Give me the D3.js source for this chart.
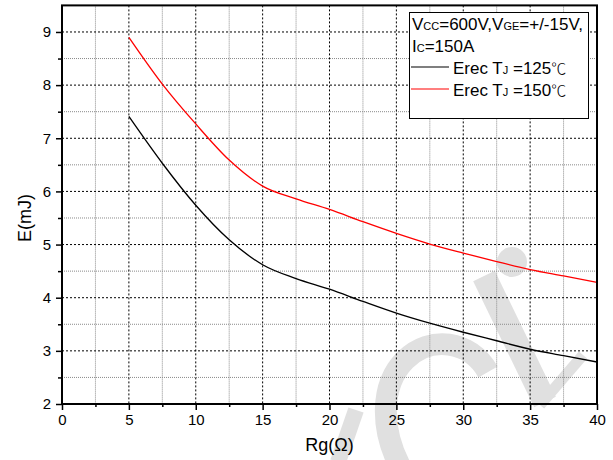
<!DOCTYPE html>
<html>
<head>
<meta charset="utf-8">
<script src="https://cdn.jsdelivr.net/npm/d3@7"></script>
<style>
  html, body { margin: 0; padding: 0; background: #fff; }
  svg { display: block; font-family: Arial, "Liberation Sans", sans-serif; }
</style>
</head>
<body>
<svg id="chart" width="613" height="460"></svg>
<script>
// ---- data ----
const rg = [5, 7.5, 10, 12.5, 15, 17.5, 20, 22.5, 25, 27.5, 30, 32.5, 35, 37.5, 40];
const erec125 = [7.41, 6.53, 5.74, 5.09, 4.62, 4.36, 4.16, 3.93, 3.71, 3.52, 3.35, 3.19, 3.03, 2.91, 2.79];
const erec150 = [8.90, 8.02, 7.27, 6.59, 6.10, 5.86, 5.66, 5.43, 5.21, 5.01, 4.84, 4.68, 4.53, 4.41, 4.29];
const seriesNames = ["125", "150"];
const seriesColors = ["#000000", "#ff0000"];
const xTicks = [0, 5, 10, 15, 20, 25, 30, 35, 40];
const xMinor = [2.5, 7.5, 12.5, 17.5, 22.5, 27.5, 32.5, 37.5];
const yTicks = [2, 3, 4, 5, 6, 7, 8, 9];
const yMinor = [2.5, 3.5, 4.5, 5.5, 6.5, 7.5, 8.5, 9.5];

const svg = d3.select("#chart");
const L = 62, R = 597, T = 5.4, B = 404;
const x = d3.scaleLinear().domain([0, 40]).range([L, R]);
const y = d3.scaleLinear().domain([2, 9.5]).range([B, T]);

// ---- watermark (light grey, decorative) ----
const wm = svg.append("g").attr("fill", "none").attr("stroke", "#e0e0e0").attr("stroke-linecap", "butt");
wm.append("path").attr("stroke-width", 22)
  .attr("d", "M402,470 C380,430 380,385 405,360 C430,335 470,340 488,372");
wm.append("path").attr("stroke-width", 24)
  .attr("d", "M484,276 L545,402");
wm.append("path").attr("stroke-width", 11)
  .attr("d", "M540,405 L583,355");
wm.append("circle").attr("cx", 512).attr("cy", 262).attr("r", 15).attr("fill", "#e0e0e0").attr("stroke", "none");
wm.append("path").attr("stroke-width", 16)
  .attr("d", "M356,410 L338,462");

// ---- grid ----
const grid = svg.append("g");
function vline(v, col, dash) {
  grid.append("line").attr("x1", x(v)).attr("x2", x(v)).attr("y1", T).attr("y2", B)
    .attr("stroke", col).attr("stroke-width", 1).attr("stroke-dasharray", dash);
}
function hline(v, col, dash) {
  grid.append("line").attr("x1", L).attr("x2", R).attr("y1", y(v)).attr("y2", y(v))
    .attr("stroke", col).attr("stroke-width", 1).attr("stroke-dasharray", dash);
}
xMinor.forEach(v => vline(v, "#8a8a8a", "1,1"));
yMinor.slice(0, -1).forEach(v => hline(v, "#8a8a8a", "1,1"));
xTicks.slice(1, -1).forEach(v => vline(v, "#000", "2,2"));
yTicks.slice(1).forEach(v => hline(v, "#000", "2,2"));

// ---- curves ----
const line = d3.line().x(d => x(d[0])).y(d => y(d[1])).curve(d3.curveMonotoneX);
[erec125, erec150].forEach((vals, i) => {
  svg.append("path")
    .datum(rg.map((r, j) => [r, vals[j]]))
    .attr("fill", "none")
    .attr("stroke", seriesColors[i])
    .attr("stroke-width", 1.3)
    .attr("d", line);
});

// ---- frame ----
svg.append("rect").attr("x", L).attr("y", T).attr("width", R - L).attr("height", B - T)
  .attr("fill", "none").attr("stroke", "#000").attr("stroke-width", 2);

// ---- axes ----
const xAxis = svg.append("g").attr("transform", `translate(0,${B})`)
  .call(d3.axisBottom(x).tickValues(xTicks).tickSize(6).tickPadding(4).tickFormat(d3.format("d")));
const xAxisMinor = svg.append("g").attr("transform", `translate(0,${B})`)
  .call(d3.axisBottom(x).tickValues(xMinor).tickSize(3).tickFormat(""));
const yAxis = svg.append("g").attr("transform", `translate(${L},0)`)
  .call(d3.axisLeft(y).tickValues(yTicks).tickSize(6).tickPadding(5).tickFormat(d3.format("d")));
const yAxisMinor = svg.append("g").attr("transform", `translate(${L},0)`)
  .call(d3.axisLeft(y).tickValues(yMinor.slice(0, -1)).tickSize(4).tickFormat(""));
[xAxis, xAxisMinor, yAxis, yAxisMinor].forEach(g => {
  g.select(".domain").remove();
  g.selectAll(".tick line").attr("stroke", "#000").attr("stroke-width", 1.5);
  g.selectAll("text").attr("font-size", 15).attr("fill", "#000")
    .attr("font-family", "Arial, 'Liberation Sans', sans-serif");
});

// ---- axis titles ----
svg.append("text").attr("x", x(20)).attr("y", 451).attr("text-anchor", "middle")
  .attr("font-size", 18).text("Rg(Ω)");
svg.append("text").attr("transform", "translate(31,218) rotate(-90)").attr("text-anchor", "middle")
  .attr("font-size", 18).text("E(mJ)");

// ---- legend ----
const lg = svg.append("g");
lg.append("rect").attr("x", 409.5).attr("y", 12.5).attr("width", 179).attr("height", 106)
  .attr("fill", "#fff").attr("stroke", "#000").attr("stroke-width", 1);
const t1 = lg.append("text").attr("x", 412).attr("y", 30).attr("font-size", 17);
t1.append("tspan").text("V");
t1.append("tspan").attr("font-size", 11).text("CC");
t1.append("tspan").text("=600V,V");
t1.append("tspan").attr("font-size", 11).text("GE");
t1.append("tspan").text("=+/-15V,");
const t2 = lg.append("text").attr("x", 412).attr("y", 52).attr("font-size", 17);
t2.append("tspan").text("I");
t2.append("tspan").attr("font-size", 11).text("C");
t2.append("tspan").text("=150A");
const rowY = [67, 89];
seriesNames.forEach((n, i) => {
  lg.append("line").attr("x1", 411).attr("x2", 449).attr("y1", rowY[i]).attr("y2", rowY[i])
    .attr("stroke", seriesColors[i]).attr("stroke-width", 1.2);
  const t = lg.append("text").attr("x", 453).attr("y", rowY[i] + 6.5).attr("font-size", 17);
  t.append("tspan").text("Erec T");
  t.append("tspan").attr("font-size", 11).text("J");
  t.append("tspan").text(" =" + n);
  t.append("tspan").attr("font-family", "'Noto Sans CJK SC', sans-serif").attr("font-weight", 300)
    .attr("font-size", 15).text("℃");
});
</script>
</body>
</html>
